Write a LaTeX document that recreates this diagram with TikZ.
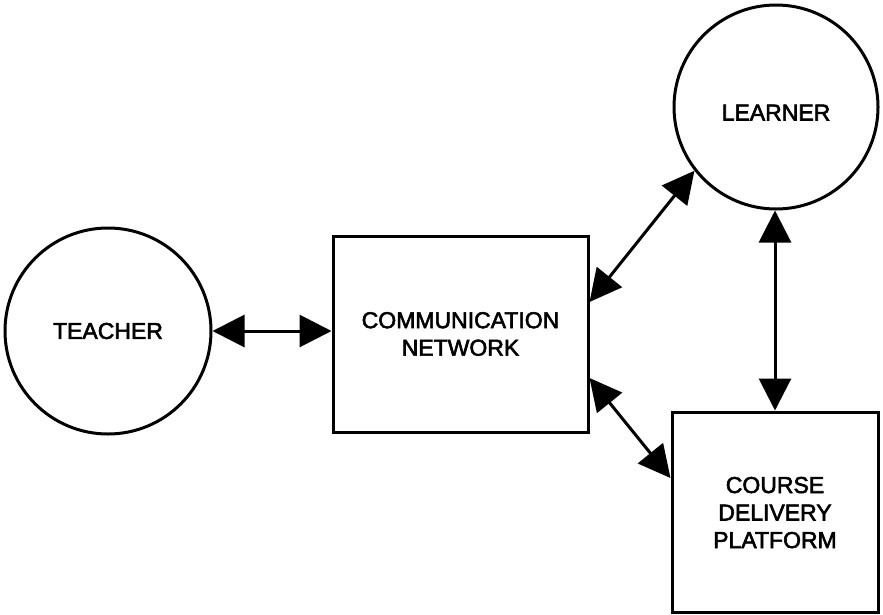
\documentclass[tikz,border=0pt]{standalone}
\usepackage{fontspec}
\setmainfont{Liberation Sans}[BoldFont={Liberation Sans}, BoldFeatures={FakeBold=2.5}]
\usetikzlibrary{arrows.meta}
\newcommand{\lowered}[2]{\raisebox{-#1}[\height][\depth]{\begin{tabular}{@{}c@{}}#2\end{tabular}}}
\begin{document}
\begin{tikzpicture}[x=1pt,y=-1pt,
  every node/.style={font=\fontsize{23}{27.5}\selectfont\bfseries, align=center, line width=3pt},
  actor/.style={draw, circle, inner sep=0pt},
  unit/.style={draw, rectangle, inner sep=0pt},
  link/.style={line width=3pt, {Triangle[length=32pt,width=32pt]}-{Triangle[length=32pt,width=32pt]}}]
  \useasboundingbox (0,0) rectangle (883,614);
  % participants
  \node[actor, minimum size=206pt] (teacher) at (108,331) {TEACHER};
  \node[actor, minimum size=204pt] (learner) at (776,107) {\lowered{8pt}{LEARNER}};
  % systems
  \node[unit, minimum width=255pt, minimum height=196pt] (comm) at (460.5,334) {COMMUNICATION\\NETWORK};
  \node[unit, minimum width=206pt, minimum height=200pt] (cdp) at (775,512) {\lowered{3pt}{COURSE\\DELIVERY\\PLATFORM}};
  % two-way links
  \draw[link] (teacher.east) -- (teacher.east -| comm.west);
  \draw[link] ([yshift=32pt]comm.east) -- (learner.218);
  \draw[link] ([yshift=-44pt]comm.east) -- ([yshift=34pt]cdp.west);
  \draw[link] (learner.south -| cdp.north) -- (cdp.north);
\end{tikzpicture}
\end{document}
